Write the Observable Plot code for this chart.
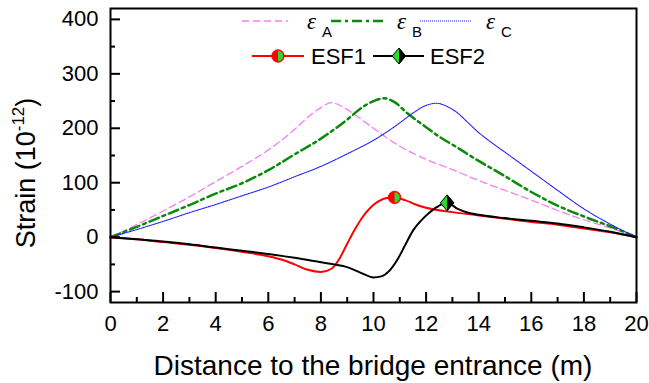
<!DOCTYPE html>
<html>
<head>
<meta charset="utf-8">
<script src="https://cdn.jsdelivr.net/npm/d3@7"></script>
<script src="https://cdn.jsdelivr.net/npm/@observablehq/plot@0.6"></script>
<style>
  html, body { margin: 0; padding: 0; background: #fff; }
  #chart { width: 649px; height: 383px; }
</style>
</head>
<body>
<div id="chart"></div>
<script>
// ---- data ----
const distA = [0,1,2,3,4,5,6,7,7.5,8,8.4,8.8,9.2,10,11,12,13,14,15,16,17,18,19,20];
const strainA = [0,23,48,74,102,130,160,198,220,238,247,240,228,200,167,143,124,104,86,68,49,32,17,0];

const distB = [0,1,2,3,4,5,6,7,8,9,9.5,10,10.4,10.8,11.3,12,12.55,13,14,15,16,17,18,19,20];
const strainB = [0,19,39,59,80,99,123,152,181,216,236,250,255,248,227,202,183,170,140,112,83,58,38,20,0];

const distC = [0,1,2,3,4,5,6,7,8,9,10,10.5,11,11.5,12,12.4,12.8,13.2,13.6,14,14.4,15,16,17,18,19,20];
const strainC = [0,14,29,45,60,76,92,111,130,153,178,193,210,228,242,246,240,228,210,192,177,156,121,86,52,24,0];

const distESF1 = [0,1,2,3,4,5,6,6.5,7,7.5,8,8.4,8.7,9,9.3,9.6,9.9,10.2,10.5,10.8,11.2,11.6,12,13,14,15,16,17,18,19,20];
const strainESF1 = [0,-4,-9,-14,-20,-27,-35,-41,-50,-60,-64,-58,-40,-12,15,38,55,66,72,73,68,60,54,46,40,34,28,23,16,9,0];

const distESF2 = [0,1,2,3,4,5,6,7,8,8.5,9,9.5,10,10.3,10.6,10.9,11.2,11.5,11.8,12.1,12.4,12.8,13.2,13.6,14,15,16,17,18,19,20];
const strainESF2 = [0,-4,-8,-13,-19,-25,-31,-38,-46,-50,-55,-65,-74,-72,-62,-42,-15,12,30,44,55,63,52,45,41,35,30,25,18,10,0];

const markerESF1 = {x: 10.8, y: 73};
const markerESF2 = {x: 12.8, y: 63};

const xMajorTicks = [0,2,4,6,8,10,12,14,16,18,20];
const xMinorTicks = [1,3,5,7,9,11,13,15,17,19];
const yMajorTicks = [-100,0,100,200,300,400];
const yMinorTicks = [-50,50,150,250,350];

const xTitle = "Distance to the bridge entrance (m)";
const yTitle = "Strain (10";
const yTitleSup = "-12";
const legendEps = ["A", "B", "C"];
const legendESF = ["ESF1", "ESF2"];

// ---- styles ----
const colA = "#f47ef4", colB = "#0a8a0a", colC = "#1a1aff", colESF1 = "#ff0000", colESF2 = "#000000";
const lightGreen = "#2fd62f";
const dashA = "7,4", dashB = "10,4,3,4", dashC = "1,1";

const toRows = (xs, ys) => xs.map((x, i) => ({x, y: ys[i]}));

// custom half symbols
const rightHalfCircle = {
  draw(ctx, size) {
    const r = Math.sqrt(size / Math.PI);
    ctx.moveTo(0, -r);
    ctx.arc(0, 0, r, -Math.PI / 2, Math.PI / 2);
    ctx.closePath();
  }
};
const tallDiamond = {
  draw(ctx, size) {
    const r = Math.sqrt(size / Math.PI);
    const w = r * 0.85;
    ctx.moveTo(0, -r); ctx.lineTo(w, 0); ctx.lineTo(0, r); ctx.lineTo(-w, 0); ctx.closePath();
  }
};
const rightHalfDiamond = {
  draw(ctx, size) {
    const r = Math.sqrt(size / Math.PI);
    const w = r * 0.85;
    ctx.moveTo(0, -r); ctx.lineTo(w, 0); ctx.lineTo(0, r); ctx.closePath();
  }
};

const FONT = "'Liberation Sans', Arial, sans-serif";

const plot = Plot.plot({
  width: 649,
  height: 383,
  marginLeft: 110,
  marginRight: 13,
  marginTop: 8,
  marginBottom: 81,
  style: {fontFamily: FONT, fontSize: "22px", color: "#000", background: "#fff"},
  x: {domain: [0, 20]},
  y: {domain: [-120, 420]},
  marks: [
    Plot.line(toRows(distA, strainA), {x: "x", y: "y", stroke: colA, strokeWidth: 1.3, strokeDasharray: dashA, curve: "monotone-x"}),
    Plot.line(toRows(distB, strainB), {x: "x", y: "y", stroke: colB, strokeWidth: 2.5, strokeDasharray: dashB, curve: "monotone-x"}),
    Plot.line(toRows(distC, strainC), {x: "x", y: "y", stroke: colC, strokeWidth: 1.1, strokeDasharray: dashC, curve: "monotone-x"}),
    Plot.line(toRows(distESF1, strainESF1), {x: "x", y: "y", stroke: colESF1, strokeWidth: 2, curve: "monotone-x"}),
    Plot.line(toRows(distESF2, strainESF2), {x: "x", y: "y", stroke: colESF2, strokeWidth: 2, curve: "monotone-x"}),
    // ESF1 marker: red circle, right half green
    Plot.dot([markerESF1], {x: "x", y: "y", r: 6.2, fill: colESF1, stroke: colESF1, strokeWidth: 1}),
    Plot.dot([markerESF1], {x: "x", y: "y", r: 5.2, symbol: rightHalfCircle, fill: lightGreen}),
    // ESF2 marker: green diamond, right half black
    Plot.dot([markerESF2], {x: "x", y: "y", r: 8, symbol: tallDiamond, fill: lightGreen, stroke: "#000", strokeWidth: 1}),
    Plot.dot([markerESF2], {x: "x", y: "y", r: 8, symbol: rightHalfDiamond, fill: "#000"}),
    // axes: labels
    Plot.axisX(xMajorTicks, {anchor: "bottom", tickSize: 0, tickPadding: 13, label: null, fontSize: 22, tickFormat: d => String(d)}),
    Plot.axisY(yMajorTicks, {anchor: "left", tickSize: 0, tickPadding: 12, label: null, fontSize: 22, tickFormat: d => String(d)}),
    // inward ticks
    Plot.axisX(xMajorTicks, {anchor: "bottom", tickSize: -10, strokeWidth: 2, label: null, tickFormat: () => ""}),
    Plot.axisX(xMinorTicks, {anchor: "bottom", tickSize: -5, strokeWidth: 2, label: null, tickFormat: () => ""}),
    Plot.axisY(yMajorTicks, {anchor: "left", tickSize: -10, strokeWidth: 2, label: null, tickFormat: () => ""}),
    Plot.axisY(yMinorTicks, {anchor: "left", tickSize: -5, strokeWidth: 2, label: null, tickFormat: () => ""}),
    Plot.frame({stroke: "#000", strokeWidth: 2})
  ]
});

document.getElementById("chart").appendChild(plot);

// ---- titles and legend drawn into the same SVG ----
const svg = d3.select(plot);
const W = 649, H = 383, mL = 110, mR = 13, mT = 8, mB = 81;
const cx = (mL + (W - mR)) / 2;

svg.append("text")
  .attr("x", cx).attr("y", 375)
  .attr("text-anchor", "middle")
  .style("font-family", FONT).style("font-size", "28px").attr("fill", "#000")
  .text(xTitle);

const yt = svg.append("text")
  .attr("transform", `translate(35,${(mT + H - mB) / 2 + 18}) rotate(-90)`)
  .attr("text-anchor", "middle")
  .style("font-family", FONT).style("font-size", "27px").attr("fill", "#000");
yt.append("tspan").text(yTitle);
yt.append("tspan").attr("dy", -11).style("font-size", "17px").text(yTitleSup);
yt.append("tspan").attr("dy", 11).text(")");

// legend row 1
const leg = svg.append("g").style("font-family", FONT).attr("text-anchor", "start");
const row1 = 21, row2 = 56;
const eps = [
  {x1: 242, x2: 288, tx: 307, color: colA, w: 1.3, dash: dashA},
  {x1: 331, x2: 384, tx: 397, color: colB, w: 2.5, dash: dashB},
  {x1: 420, x2: 471, tx: 486, color: colC, w: 1.1, dash: dashC}
];
eps.forEach((e, i) => {
  leg.append("line").attr("x1", e.x1).attr("x2", e.x2).attr("y1", row1).attr("y2", row1)
    .attr("stroke", e.color).attr("stroke-width", e.w).attr("stroke-dasharray", e.dash);
  const t = leg.append("text").attr("x", e.tx).attr("y", row1 + 8).attr("fill", "#000").attr("text-anchor", "start");
  t.append("tspan").style("font-family", "'Liberation Serif', 'Times New Roman', serif")
    .style("font-style", "italic").style("font-size", "23px").text("ε");
  t.append("tspan").attr("dx", 6).attr("dy", 8).style("font-size", "15px").text(legendEps[i]);
});

// legend row 2
leg.append("line").attr("x1", 252).attr("x2", 304).attr("y1", row2).attr("y2", row2)
  .attr("stroke", colESF1).attr("stroke-width", 2);
leg.append("path").attr("transform", `translate(278,${row2})`)
  .attr("d", d3.symbol(d3.symbolCircle, Math.PI * 6.2 * 6.2)())
  .attr("fill", colESF1).attr("stroke", colESF1);
leg.append("path").attr("transform", `translate(278,${row2})`)
  .attr("d", d3.symbol(rightHalfCircle, Math.PI * 5.2 * 5.2)())
  .attr("fill", lightGreen);
leg.append("text").attr("x", 311).attr("y", row2 + 7.5).attr("text-anchor", "start")
  .style("font-size", "22px").attr("fill", "#000").text(legendESF[0]);

leg.append("line").attr("x1", 373).attr("x2", 424).attr("y1", row2).attr("y2", row2)
  .attr("stroke", colESF2).attr("stroke-width", 2);
leg.append("path").attr("transform", `translate(399,${row2})`)
  .attr("d", d3.symbol(tallDiamond, Math.PI * 64)())
  .attr("fill", lightGreen).attr("stroke", "#000");
leg.append("path").attr("transform", `translate(399,${row2})`)
  .attr("d", d3.symbol(rightHalfDiamond, Math.PI * 64)())
  .attr("fill", "#000");
leg.append("text").attr("x", 430).attr("y", row2 + 7.5).attr("text-anchor", "start")
  .style("font-size", "22px").attr("fill", "#000").text(legendESF[1]);
</script>
</body>
</html>
